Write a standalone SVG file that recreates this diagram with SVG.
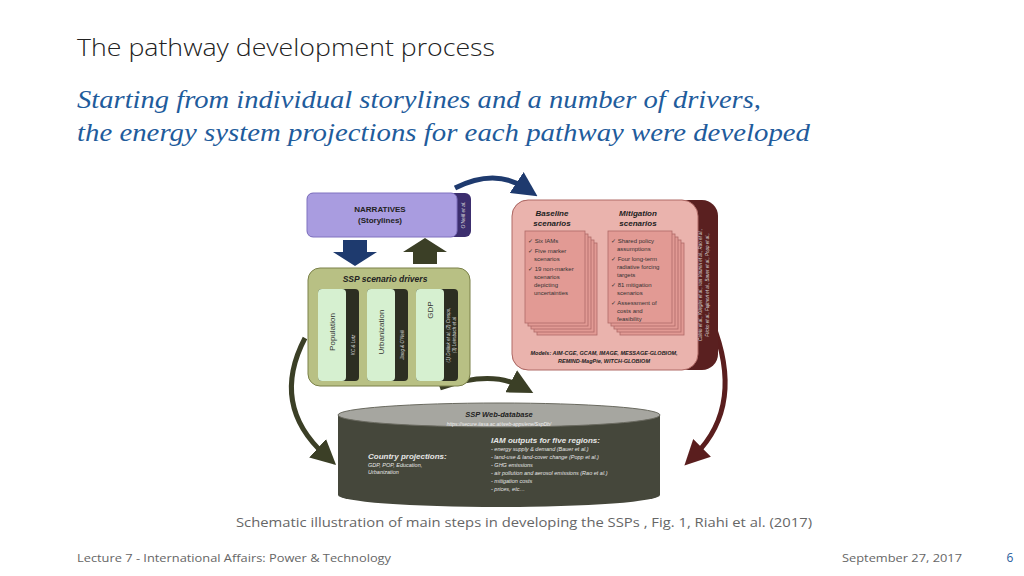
<svg xmlns="http://www.w3.org/2000/svg" width="1024" height="576" viewBox="0 0 1024 576">
<style>
.t{font-family:"Liberation Sans",Arial,sans-serif}
.c{font-family:"Open Sans","Liberation Sans",sans-serif}
.h{font-family:"Liberation Serif",serif;font-style:italic;fill:#1f5c9c;font-size:25px}
.card{fill:#e29a94;stroke:#b06a66;stroke-width:0.8}
.sm{font-family:"Liberation Sans",Arial,sans-serif;font-size:6px;fill:#333}
.db{font-family:"Liberation Sans",Arial,sans-serif;font-style:italic;fill:#e6e6e6}
</style>
<defs>
<marker id="ab" markerWidth="5" markerHeight="5" refX="2" refY="2.5" orient="auto" markerUnits="strokeWidth"><path d="M0,0 L5,2.5 L0,5 z" fill="#1e3a6e"/></marker>
<marker id="ao" markerWidth="5" markerHeight="5" refX="2" refY="2.5" orient="auto" markerUnits="strokeWidth"><path d="M0,0 L5,2.5 L0,5 z" fill="#3b3f26"/></marker>
<marker id="ar" markerWidth="5" markerHeight="5" refX="2" refY="2.5" orient="auto" markerUnits="strokeWidth"><path d="M0,0 L5,2.5 L0,5 z" fill="#5a1e1e"/></marker>
</defs>
<rect width="1024" height="576" fill="#fff"/>
<text x="77" y="56" class="c" font-size="23" font-weight="300" fill="#222" textLength="418" lengthAdjust="spacingAndGlyphs">The pathway development process</text>
<text x="77" y="108" class="h" textLength="684" lengthAdjust="spacingAndGlyphs">Starting from individual storylines and a number of drivers,</text>
<text x="77" y="141" class="h" textLength="733" lengthAdjust="spacingAndGlyphs">the energy system projections for each pathway were developed</text>

<g id="connectors" fill="none">
<path d="M455,188 Q495,168 525,188" stroke="#1e3a6e" stroke-width="5" marker-end="url(#ab)"/>
<path d="M305,338 Q270,405 325,455" stroke="#3b3f26" stroke-width="5" marker-end="url(#ao)"/>
<path d="M712,322 Q745,405 695,455" stroke="#5a1e1e" stroke-width="5" marker-end="url(#ar)"/>
<path d="M440,388 Q490,370 520,386" stroke="#3b3f26" stroke-width="5" marker-end="url(#ao)"/>
<path d="M343,240 h24 v12 h10 l-22,14 l-22,-14 h10 z" fill="#1e3a6e"/>
<path d="M413,264 h24 v-12 h10 l-22,-14 l-22,14 h10 z" fill="#3b3f26"/>
</g>

<g id="narratives">
<rect x="307" y="193" width="164" height="44" rx="6" fill="#3c2e6e"/>
<rect x="307" y="193" width="150" height="44" rx="6" fill="#a99ce0" stroke="#8073c0"/>
<text x="380" y="212" class="t" font-size="8" font-weight="bold" text-anchor="middle" fill="#222">NARRATIVES</text>
<text x="380" y="223" class="t" font-size="8" font-weight="bold" text-anchor="middle" fill="#222">(Storylines)</text>
<text transform="translate(465,215) rotate(-90)" class="t" font-size="5" text-anchor="middle" fill="#ddd" font-style="italic">O'Neill et al.</text>
</g>

<g id="drivers">
<rect x="308" y="268" width="162" height="118" rx="12" fill="#b8c084" stroke="#7a8048"/>
<text x="385" y="282" class="t" font-size="8.5" font-weight="bold" font-style="italic" text-anchor="middle" fill="#222">SSP scenario drivers</text>
<rect x="318" y="289" width="41" height="92" rx="4" fill="#2c2e22"/>
<rect x="318" y="289" width="28" height="92" rx="4" fill="#d6f0d0"/>
<rect x="367" y="289" width="41" height="92" rx="4" fill="#2c2e22"/>
<rect x="367" y="289" width="28" height="92" rx="4" fill="#d6f0d0"/>
<rect x="416" y="289" width="42" height="92" rx="4" fill="#2c2e22"/>
<rect x="416" y="289" width="28" height="92" rx="4" fill="#d6f0d0"/>
<text transform="translate(335,332) rotate(-90)" class="t" font-size="8" text-anchor="middle" fill="#333">Population</text>
<text transform="translate(384,332) rotate(-90)" class="t" font-size="8" text-anchor="middle" fill="#333">Urbanization</text>
<text transform="translate(433,310) rotate(-90)" class="t" font-size="8" text-anchor="middle" fill="#333">GDP</text>
<text transform="translate(355,345) rotate(-90)" class="t" font-size="4.5" font-style="italic" text-anchor="middle" fill="#ddd">KC &amp; Lutz</text>
<text transform="translate(404,345) rotate(-90)" class="t" font-size="4.5" font-style="italic" text-anchor="middle" fill="#ddd">Jiang &amp; O'Neill</text>
<text transform="translate(450,335) rotate(-90)" class="t" font-size="4.5" font-style="italic" text-anchor="middle" fill="#ddd">(1) Dellink et al, (2) Crespo,</text>
<text transform="translate(456,335) rotate(-90)" class="t" font-size="4.5" font-style="italic" text-anchor="middle" fill="#ddd">(3) Leimbach et al</text>
</g>

<g id="scenarios">
<rect x="512" y="200" width="206" height="170" rx="16" fill="#5a2020"/>
<rect x="512" y="200" width="186" height="170" rx="16" fill="#eab3ad" stroke="#b06a66"/>
<text x="552" y="216" class="t" font-size="8" font-weight="bold" font-style="italic" text-anchor="middle" fill="#222">Baseline</text>
<text x="552" y="226" class="t" font-size="8" font-weight="bold" font-style="italic" text-anchor="middle" fill="#222">scenarios</text>
<text x="638" y="216" class="t" font-size="8" font-weight="bold" font-style="italic" text-anchor="middle" fill="#222">Mitigation</text>
<text x="638" y="226" class="t" font-size="8" font-weight="bold" font-style="italic" text-anchor="middle" fill="#222">scenarios</text>
<rect x="537" y="243" width="60" height="92" class="card"/><rect x="534" y="240" width="60" height="92" class="card"/><rect x="531" y="237" width="60" height="92" class="card"/><rect x="528" y="234" width="60" height="92" class="card"/><rect x="525" y="231" width="60" height="92" class="card"/>
<rect x="620" y="243" width="64" height="92" class="card"/><rect x="617" y="240" width="64" height="92" class="card"/><rect x="614" y="237" width="64" height="92" class="card"/><rect x="611" y="234" width="64" height="92" class="card"/><rect x="608" y="231" width="64" height="92" class="card"/>
<text class="sm"><tspan x="528" y="243">✓ Six IAMs</tspan><tspan x="528" y="253">✓ Five marker</tspan><tspan x="534" y="261">scenarios</tspan><tspan x="528" y="271">✓ 19 non-marker</tspan><tspan x="534" y="279">scenarios</tspan><tspan x="534" y="287">depicting</tspan><tspan x="534" y="295">uncertainties</tspan></text>
<text class="sm"><tspan x="611" y="243">✓ Shared policy</tspan><tspan x="617" y="251">assumptions</tspan><tspan x="611" y="261">✓ Four long-term</tspan><tspan x="617" y="269">radiative forcing</tspan><tspan x="617" y="277">targets</tspan><tspan x="611" y="287">✓ 81 mitigation</tspan><tspan x="617" y="295">scenarios</tspan><tspan x="611" y="305">✓ Assessment of</tspan><tspan x="617" y="313">costs and</tspan><tspan x="617" y="321">feasibility</tspan></text>
<text x="604" y="355" class="t" font-size="5.5" font-weight="bold" font-style="italic" text-anchor="middle" fill="#222">Models: AIM-CGE, GCAM, IMAGE, MESSAGE-GLOBIOM,</text>
<text x="604" y="363" class="t" font-size="5.5" font-weight="bold" font-style="italic" text-anchor="middle" fill="#222">REMIND-MagPie, WITCH-GLOBIOM</text>
<text transform="translate(702,285) rotate(-90)" class="t" font-size="4.5" font-style="italic" text-anchor="middle" fill="#ddd">Calvin et al., Kriegler et al., van Vuuren et al., Rao et al.,</text>
<text transform="translate(709,285) rotate(-90)" class="t" font-size="4.5" font-style="italic" text-anchor="middle" fill="#ddd">Fricko et al., Fujimori et al., Bauer et al., Popp et al.,</text>
</g>

<g id="database">
<path d="M338,415 V495 A161,12 0 0 0 660,495 V415 z" fill="#45473b"/>
<ellipse cx="499" cy="415" rx="161" ry="12" fill="#a6a6a0" stroke="#6a6a60"/>
<text x="499" y="417" class="t" font-size="7.5" font-weight="bold" font-style="italic" text-anchor="middle" fill="#222">SSP Web-database</text>
<text x="499" y="426" class="t" font-size="5" font-style="italic" text-anchor="middle" fill="#eee">https://secure.iiasa.ac.at/web-apps/ene/SspDb/</text>
<text x="368" y="459" class="db" font-size="8" font-weight="bold">Country projections:</text>
<text x="368" y="467" class="db" font-size="5.5">GDP, POP, Education,</text>
<text x="368" y="474" class="db" font-size="5.5">Urbanization</text>
<text x="491" y="443" class="db" font-size="8" font-weight="bold">IAM outputs for five regions:</text>
<text class="db" font-size="5.5"><tspan x="491" y="451">-    energy supply &amp; demand (Bauer et al.)</tspan><tspan x="491" y="459">-    land-use &amp; land-cover change (Popp et al.)</tspan><tspan x="491" y="467">-    GHG emissions</tspan><tspan x="491" y="475">-    air pollution and aerosol emissions (Rao et al.)</tspan><tspan x="491" y="483">-    mitigation costs</tspan><tspan x="491" y="491">-    prices, etc…</tspan></text>
</g>

<text x="236" y="527" class="c" font-size="13" fill="#666" textLength="576" lengthAdjust="spacingAndGlyphs">Schematic illustration of main steps in developing the SSPs , Fig. 1, Riahi et al. (2017)</text>
<text x="77" y="562" class="c" font-size="11.5" fill="#666" textLength="314" lengthAdjust="spacingAndGlyphs">Lecture 7 - International Affairs: Power &amp; Technology</text>
<text x="842" y="562" class="c" font-size="11.5" fill="#666" textLength="120" lengthAdjust="spacingAndGlyphs">September 27, 2017</text>
<text x="1010" y="562" class="c" font-size="12" text-anchor="middle" fill="#1f5c9c">6</text>
</svg>
